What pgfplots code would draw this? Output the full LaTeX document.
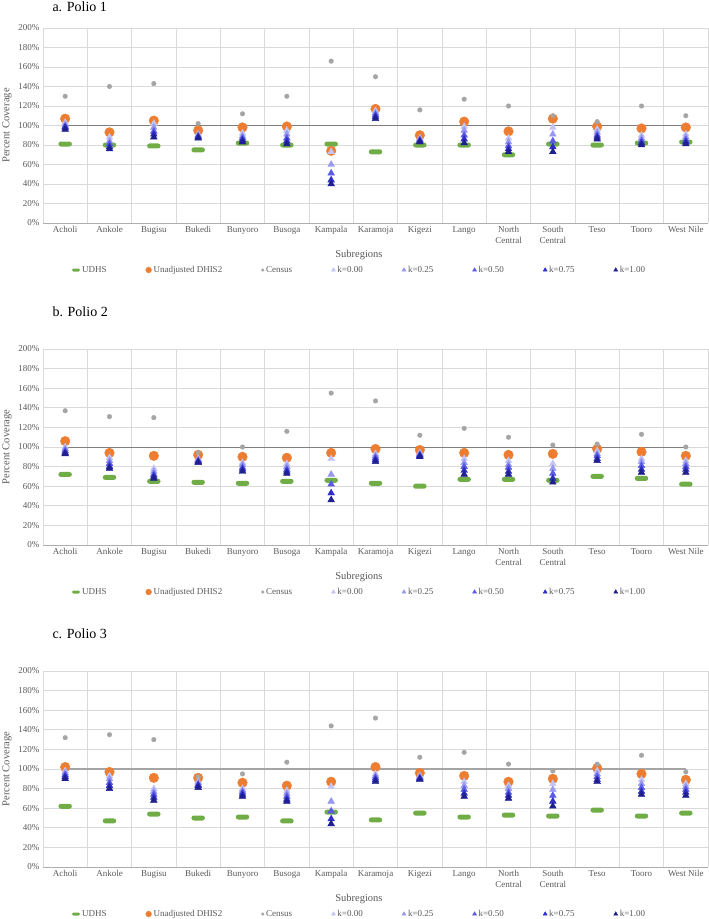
\documentclass[border=0pt]{standalone}
\usepackage{fontspec}
\setmainfont{Liberation Serif}
\usepackage{pgfplots}
\usepackage{pgfplotstable}
\pgfplotsset{compat=1.18}

\definecolor{udhsgreen}{HTML}{70AD47}
\definecolor{dhisorange}{HTML}{ED7D31}
\definecolor{censusgray}{HTML}{A5A5A5}
\definecolor{kzero}{HTML}{C5C5F5}
\definecolor{kquarter}{HTML}{9898EE}
\definecolor{khalf}{HTML}{5B5BE6}
\definecolor{kthree}{HTML}{2E2EC4}
\definecolor{kone}{HTML}{1F1F8F}
\definecolor{tickgray}{HTML}{595959}
\definecolor{gridgray}{HTML}{D9D9D9}
\definecolor{linegray}{HTML}{7F7F7F}

\pgfdeclareplotmark{pill}{%
  \pgfpathmoveto{\pgfpoint{-0.85\pgfplotmarksize}{-0.5\pgfplotmarksize}}%
  \pgfpathlineto{\pgfpoint{0.85\pgfplotmarksize}{-0.5\pgfplotmarksize}}%
  \pgfpatharc{-90}{90}{0.5\pgfplotmarksize}%
  \pgfpathlineto{\pgfpoint{-0.85\pgfplotmarksize}{0.5\pgfplotmarksize}}%
  \pgfpatharc{90}{270}{0.5\pgfplotmarksize}%
  \pgfpathclose
  \pgfusepathqfill}

% columns: x udhs dhis census k0 k25 k50 k75 k100
\pgfplotstableread{
x udhs dhis census k0 k25 k50 k75 k100
0 81 107 130 103 101 99 98 96
1 80 93 140 88 84 81 78 76
2 79 105 143 102 98 94 91 88
3 75 95 102 91 90 89 88 87
4 82 98 112 92 89 87 85 83
5 80 99 130 95 91 87 84 81
6 81 74 166 73 60 51 44 40
7 73 117 150 115 113 111 109 107
8 80 90 116 87 86 85 84 83
9 80 104 127 99 95 90 86 82
10 70 94 120 87 83 79 76 73
11 81 107 110 98 91 84 78 73
12 80 99 104 96 93 90 88 86
13 82 97 120 90 87 84 82 80
14 83 98 110 91 88 85 83 81
}\dataA

\pgfplotstableread{
x udhs dhis census k0 k25 k50 k75 k100
0 72 106 137 100 98 96 94 93
1 69 94 131 89 86 83 80 78
2 65 91 130 78 75 72 70 68
3 64 92 94 88 87 86 85 84
4 63 90 100 84 82 79 77 75
5 65 89 116 83 80 77 75 73
6 66 94 155 88 72 62 53 46
7 63 98 147 93 91 89 87 85
8 60 97 112 94 93 92 91 90
9 67 94 119 88 84 80 76 72
10 67 92 110 86 82 79 75 72
11 66 93 102 83 78 73 68 64
12 70 98 103 96 93 91 88 86
13 68 95 113 88 85 81 77 74
14 62 91 100 86 83 80 77 74
}\dataB

\pgfplotstableread{
x udhs dhis census k0 k25 k50 k75 k100
0 62 102 132 98 96 94 92 90
1 47 97 135 93 90 86 83 80
2 54 91 130 80 77 74 71 68
3 50 91 92 87 86 84 83 81
4 51 86 95 80 78 76 74 72
5 47 83 107 78 75 72 69 67
6 56 87 144 82 67 57 49 44
7 48 102 152 95 93 91 89 87
8 55 96 112 93 92 91 90 89
9 51 93 117 87 83 79 75 72
10 53 87 105 83 80 76 73 70
11 52 90 98 85 79 73 67 62
12 58 101 105 98 95 92 89 87
13 52 95 114 89 85 81 77 74
14 55 89 97 85 82 79 76 73
}\dataC

\pgfplotsset{
  polio/.style={
    scale only axis, width=665pt, height=195pt,
    xmin=-0.5, xmax=14.5, ymin=0, ymax=200,
    xtick={0,...,14},
    xticklabels={Acholi,Ankole,Bugisu,Bukedi,Bunyoro,Busoga,Kampala,Karamoja,Kigezi,Lango,{North\\Central},{South\\Central},Teso,Tooro,West Nile},
    xticklabel style={align=center, font=\fontsize{9}{10.5}\selectfont, text=tickgray},
    minor xtick={-0.5,0.5,...,14.5},
    xminorgrids, minor x grid style={gridgray, line width=0.8pt},
    ytick={0,20,...,200},
    yticklabel={\pgfmathprintnumber{\tick}\%},
    yticklabel style={font=\fontsize{9}{10}\selectfont, text=tickgray},
    /pgf/number format/assume math mode=true,
    ymajorgrids, major y grid style={gridgray, line width=0.8pt},
    major tick length=0pt, minor tick length=0pt,
    axis x line*=bottom, axis y line*=left,
    x axis line style={draw=gridgray!80!black, line width=0.8pt, -},
    y axis line style={draw=none},
    ylabel={Percent Coverage},
    ylabel style={font=\fontsize{10.5}{12}\selectfont, text=tickgray},
    xlabel={Subregions},
    xlabel style={at={(axis description cs:0.475,0)}, anchor=center, yshift=-32pt, font=\fontsize{10.5}{12}\selectfont, text=tickgray},
    legend style={at={(axis description cs:0.476,0)}, anchor=center, yshift=-47pt,
      draw=none, fill=none, font=\fontsize{9}{10}\selectfont, text=tickgray,
      /tikz/every even column/.append style={column sep=37.2pt}},
    legend columns=8,
    legend image code/.code={\draw[mark repeat=1,#1] plot coordinates {(0pt,0pt)};},
    legend image post style={/tikz/every mark/.append style={scale=0.6}},
    clip=false,
  },
  udhs/.style={only marks, mark=pill, mark size=5pt, color=udhsgreen, fill=udhsgreen},
  dhis/.style={only marks, mark=*, mark size=4.8pt, color=dhisorange, fill=dhisorange},
  census/.style={only marks, mark=*, mark size=2.3pt, color=censusgray, fill=censusgray},
  ktri/.style={only marks, mark=triangle*, mark size=3.9pt, color=#1, fill=#1},
}

\newcommand{\panel}[3]{%
  \addplot[#3, no marks, forget plot] coordinates {(0,100) (14,100)};
  \addplot[udhs] table[x=x,y=udhs]{#1};
  \addplot[dhis] table[x=x,y=dhis]{#1};
  \addplot[census] table[x=x,y=census]{#1};
  \addplot[ktri=kzero] table[x=x,y=k0]{#1};
  \addplot[ktri=kquarter] table[x=x,y=k25]{#1};
  \addplot[ktri=khalf] table[x=x,y=k50]{#1};
  \addplot[ktri=kthree] table[x=x,y=k75]{#1};
  \addplot[ktri=kone] table[x=x,y=k100]{#1};
  \legend{UDHS,Unadjusted DHIS2,Census,k=0.00,k=0.25,k=0.50,k=0.75,k=1.00}
}

\begin{document}
\begin{tikzpicture}
\useasboundingbox (0pt,0pt) rectangle (709pt,-919pt);

\node[anchor=base west, font=\fontsize{14}{16}\selectfont] at (49pt,-11pt) {a. Polio 1};
\begin{axis}[polio, at={(43pt,-223pt)}, anchor=south west]
  \panel{\dataA}{}{draw=linegray, line width=0.9pt}
\end{axis}

\node[anchor=base west, font=\fontsize{14}{16}\selectfont] at (49pt,-316pt) {b. Polio 2};
\begin{axis}[polio, at={(43pt,-545pt)}, anchor=south west, height=196pt]
  \panel{\dataB}{}{draw=linegray, line width=0.9pt}
\end{axis}

\node[anchor=base west, font=\fontsize{14}{16}\selectfont] at (49pt,-638pt) {c. Polio 3};
\begin{axis}[polio, at={(43pt,-867pt)}, anchor=south west, height=196pt]
  \panel{\dataC}{}{draw=censusgray, line width=1.4pt}
\end{axis}
\end{tikzpicture}
\end{document}
